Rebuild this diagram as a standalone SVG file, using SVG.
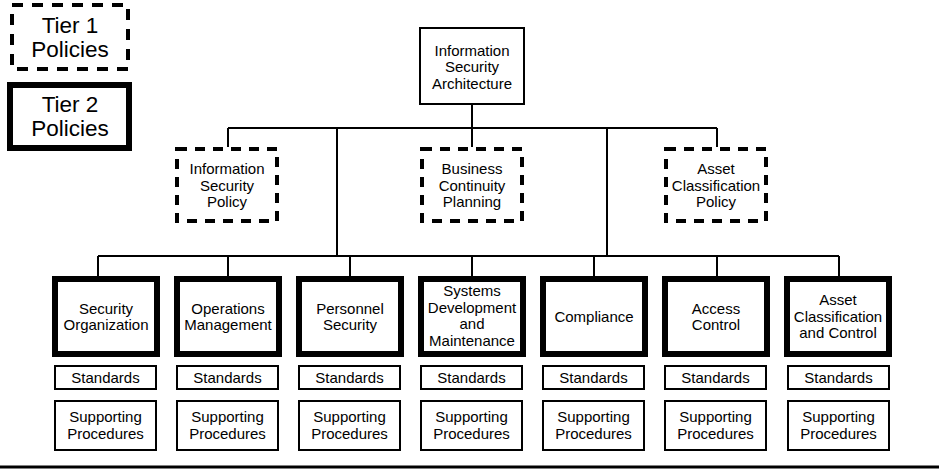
<svg xmlns="http://www.w3.org/2000/svg" width="939" height="474" viewBox="0 0 939 474">
<style>
text{font-family:"Liberation Sans",Arial,sans-serif;font-size:15px;fill:#000;text-anchor:middle}
.tier{font-size:22.5px}
.t1{fill:#fff;stroke:#000;stroke-width:4;stroke-dasharray:11 9}
.t2{fill:#fff;stroke:#000;stroke-width:6}
.dash{fill:#fff;stroke:#000;stroke-width:4;stroke-dasharray:10 8}
.thin{fill:#fff;stroke:#000;stroke-width:2}
.con{fill:none;stroke:#000;stroke-width:2}
</style>
<rect width="939" height="474" fill="#fff"/>
<g id="legend-tier1"><rect class="t1" x="12" y="5" width="116" height="64"/><text class="tier" x="70" y="33">Tier 1</text><text class="tier" x="70" y="57">Policies</text></g>
<g id="legend-tier2"><rect class="t2" x="10" y="85" width="119" height="63"/><text class="tier" x="70" y="112">Tier 2</text><text class="tier" x="70" y="136">Policies</text></g>
<g id="connectors">
<path class="con" d="M472 104V128M228 128H717M228 128V147M472 128V147M717 128V147M337 128V256M607 128V256M98 256H839M98 256V277M228 256V277M350 256V277M472 256V277M594 256V277M717 256V277M839 256V277"/>
<line x1="0" y1="467" x2="939" y2="467" stroke="#000" stroke-width="3"/>
</g>
<g id="isa"><rect class="thin" x="420" y="28" width="104" height="76"/><text x="472" y="55.5">Information</text><text x="472" y="72">Security</text><text x="472" y="88.5">Architecture</text></g>
<g id="isp"><rect class="dash" x="177" y="149" width="100" height="72"/><text x="227" y="174">Information</text><text x="227" y="191">Security</text><text x="227" y="207">Policy</text></g>
<g id="bcp"><rect class="dash" x="422" y="149" width="100" height="72"/><text x="472" y="174">Business</text><text x="472" y="191">Continuity</text><text x="472" y="207">Planning</text></g>
<g id="acp"><rect class="dash" x="666" y="149" width="100" height="72"/><text x="716" y="174">Asset</text><text x="716" y="191">Classification</text><text x="716" y="207">Policy</text></g>
<g id="sec-org"><rect class="t2" x="55" y="279" width="102" height="75"/><text x="106" y="314">Security</text><text x="106" y="330">Organization</text></g>
<g id="ops"><rect class="t2" x="177" y="279" width="102" height="75"/><text x="228" y="314">Operations</text><text x="228" y="330">Management</text></g>
<g id="pers"><rect class="t2" x="299" y="279" width="102" height="75"/><text x="350" y="314">Personnel</text><text x="350" y="330">Security</text></g>
<g id="sysdev"><rect class="t2" x="421" y="279" width="102" height="75"/><text x="472" y="296">Systems</text><text x="472" y="313">Development</text><text x="472" y="329">and</text><text x="472" y="346">Maintenance</text></g>
<g id="comp"><rect class="t2" x="543" y="279" width="102" height="75"/><text x="594" y="322">Compliance</text></g>
<g id="access"><rect class="t2" x="665" y="279" width="102" height="75"/><text x="716" y="314">Access</text><text x="716" y="330">Control</text></g>
<g id="acc"><rect class="t2" x="787" y="279" width="102" height="75"/><text x="838" y="305">Asset</text><text x="838" y="322">Classification</text><text x="838" y="338">and Control</text></g>
<g id="std1"><rect class="thin" x="55" y="366" width="101" height="23"/><text x="105.5" y="383">Standards</text></g>
<g id="std2"><rect class="thin" x="177" y="366" width="101" height="23"/><text x="227.5" y="383">Standards</text></g>
<g id="std3"><rect class="thin" x="299" y="366" width="101" height="23"/><text x="349.5" y="383">Standards</text></g>
<g id="std4"><rect class="thin" x="421" y="366" width="101" height="23"/><text x="471.5" y="383">Standards</text></g>
<g id="std5"><rect class="thin" x="543" y="366" width="101" height="23"/><text x="593.5" y="383">Standards</text></g>
<g id="std6"><rect class="thin" x="665" y="366" width="101" height="23"/><text x="715.5" y="383">Standards</text></g>
<g id="std7"><rect class="thin" x="788" y="366" width="101" height="23"/><text x="838.5" y="383">Standards</text></g>
<g id="sp1"><rect class="thin" x="55" y="401" width="101" height="49"/><text x="105.5" y="422">Supporting</text><text x="105.5" y="438.5">Procedures</text></g>
<g id="sp2"><rect class="thin" x="177" y="401" width="101" height="49"/><text x="227.5" y="422">Supporting</text><text x="227.5" y="438.5">Procedures</text></g>
<g id="sp3"><rect class="thin" x="299" y="401" width="101" height="49"/><text x="349.5" y="422">Supporting</text><text x="349.5" y="438.5">Procedures</text></g>
<g id="sp4"><rect class="thin" x="421" y="401" width="101" height="49"/><text x="471.5" y="422">Supporting</text><text x="471.5" y="438.5">Procedures</text></g>
<g id="sp5"><rect class="thin" x="543" y="401" width="101" height="49"/><text x="593.5" y="422">Supporting</text><text x="593.5" y="438.5">Procedures</text></g>
<g id="sp6"><rect class="thin" x="665" y="401" width="101" height="49"/><text x="715.5" y="422">Supporting</text><text x="715.5" y="438.5">Procedures</text></g>
<g id="sp7"><rect class="thin" x="788" y="401" width="101" height="49"/><text x="838.5" y="422">Supporting</text><text x="838.5" y="438.5">Procedures</text></g>
</svg>
